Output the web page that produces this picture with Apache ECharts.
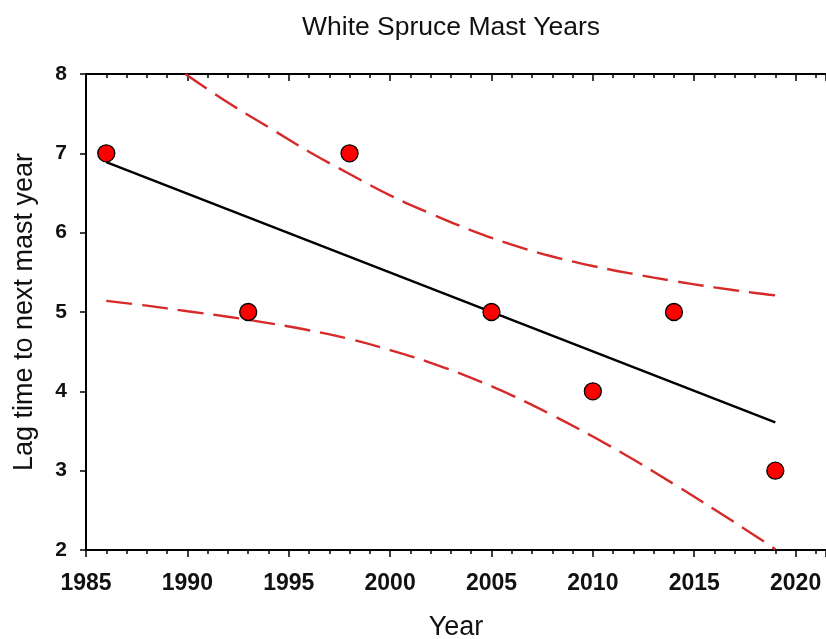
<!DOCTYPE html>
<html><head><meta charset="utf-8">
<script src="https://cdn.jsdelivr.net/npm/echarts@6/dist/echarts.min.js"></script>
<style>html,body{margin:0;padding:0;background:#fff}#c{width:826px;height:639px}</style>
</head><body><div id="c"></div>
<script>
var years = [1986, 1993, 1998, 2005, 2010, 2014, 2019];
var lags = [7, 5, 7, 5, 4, 5, 3];
var fitLine = [[1986, 6.89], [2019, 3.61]];
var upperYears = [1989.9, 1992, 1994, 1996, 1998, 2000, 2002, 2004, 2006, 2008, 2010, 2012, 2014, 2016, 2018, 2019];
var upperVals  = [8.00, 7.64, 7.33, 7.02, 6.74, 6.47, 6.24, 6.03, 5.85, 5.70, 5.58, 5.48, 5.39, 5.31, 5.24, 5.21];
var lowerYears = [1986, 1988, 1990, 1992, 1994, 1996, 1998, 2000, 2002, 2004, 2006, 2008, 2010, 2012, 2014, 2016, 2018, 2019];
var lowerVals  = [5.14, 5.08, 5.01, 4.94, 4.86, 4.77, 4.66, 4.52, 4.36, 4.17, 3.95, 3.70, 3.43, 3.14, 2.83, 2.51, 2.18, 2.01];
var xTicks = [1985, 1990, 1995, 2000, 2005, 2010, 2015, 2020];
var yTicks = [2, 3, 4, 5, 6, 7, 8];

function zip(a, b) { return a.map(function (v, i) { return [v, b[i]]; }); }
var font = '"Liberation Sans", Arial, sans-serif';
var chart = echarts.init(document.getElementById('c'), null, {renderer: 'canvas'});
var xBase = {
  type: 'value', min: 1985, max: 2021.5, interval: 5,
  axisLine: {show: true, onZero: false, lineStyle: {color: '#000', width: 2}},
  splitLine: {show: false},
  minorTick: {show: true, splitNumber: 5, length: 4, lineStyle: {color: '#000', width: 1.5}},
  axisTick: {show: true, length: 7, lineStyle: {color: '#000', width: 1.5}}
};
chart.setOption({
  animation: false,
  title: {
    text: 'White Spruce Mast Years', left: 446, top: 9, textAlign: 'center',
    textStyle: {fontFamily: font, fontSize: 26.5, fontWeight: 'normal', color: '#111'}
  },
  grid: {left: 86, right: 0, top: 74, bottom: 89, containLabel: false, outerBoundsMode: 'none'},
  xAxis: [
    Object.assign({}, xBase, {
      position: 'bottom',
      name: 'Year', nameLocation: 'middle', nameGap: 64,
      nameTextStyle: {fontFamily: font, fontSize: 27, color: '#111'},
      axisLabel: {show: true, margin: 22, fontFamily: font, fontSize: 23, fontWeight: 'bold', color: '#111',
        customValues: xTicks, formatter: function (v) { return String(v); }},
      axisTick: {show: true, length: 7, lineStyle: {color: '#000', width: 1.5}}
    }),
    Object.assign({}, xBase, {
      position: 'top',
      axisLabel: {show: false},
      axisTick: {show: true, inside: true, length: 7, lineStyle: {color: '#000', width: 1.5}},
      minorTick: {show: true, splitNumber: 5, length: 4, lineStyle: {color: '#000', width: 1.5}}
    })
  ],
  yAxis: {
    type: 'value', min: 2, max: 8, interval: 1,
    name: 'Lag time to next mast year', nameLocation: 'middle', nameGap: 48, nameRotate: 90,
    nameTextStyle: {fontFamily: font, fontSize: 27, color: '#111'},
    axisLine: {show: true, onZero: false, lineStyle: {color: '#000', width: 2}},
    axisTick: {show: true, length: 6, lineStyle: {color: '#000', width: 1.5}},
    axisLabel: {margin: 19, fontFamily: font, fontSize: 21, fontWeight: 'bold', color: '#111',
      customValues: yTicks},
    splitLine: {show: false}
  },
  series: [
    {type: 'line', data: zip(upperYears, upperVals), smooth: 0.4, symbol: 'none',
      lineStyle: {color: '#d62a2a', width: 2.4, type: [26, 10]}},
    {type: 'line', data: zip(lowerYears, lowerVals), smooth: 0.4, symbol: 'none',
      lineStyle: {color: '#d62a2a', width: 2.4, type: [26, 10]}},
    {type: 'line', data: fitLine, symbol: 'none', lineStyle: {color: '#000', width: 2.4}},
    {type: 'scatter', data: zip(years, lags), symbol: 'circle', symbolSize: 17, z: 5,
      itemStyle: {color: '#ff0000', borderColor: '#000', borderWidth: 1.3, opacity: 1}}
  ]
});
</script></body></html>
